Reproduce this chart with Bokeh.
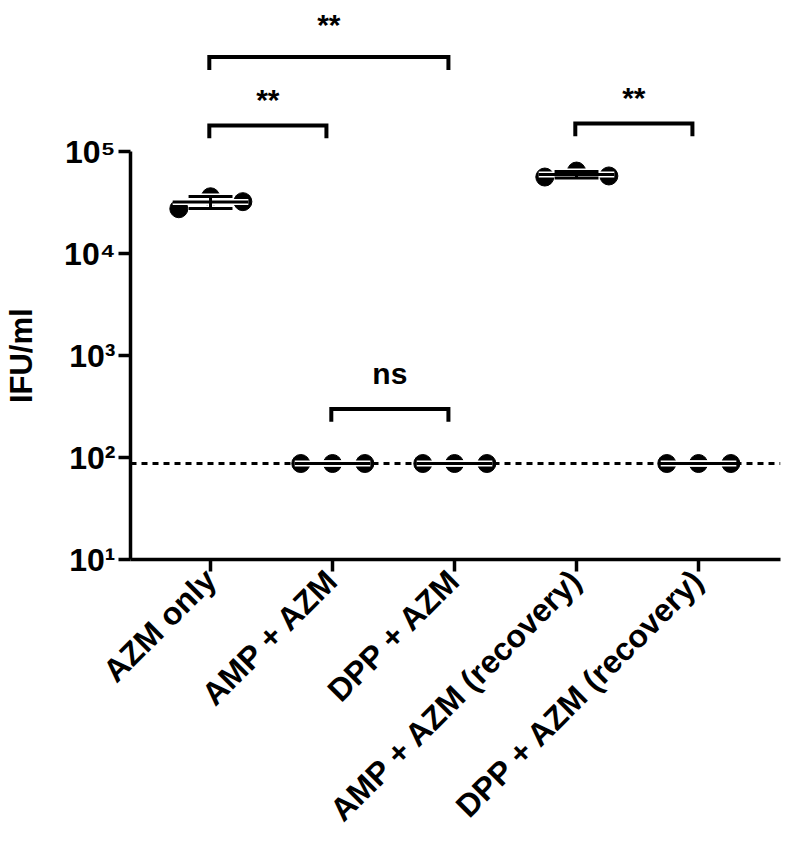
import numpy as np
from math import pi
from bokeh.plotting import figure
from bokeh.models import Range1d, FixedTicker, Span, Label
from bokeh.core.properties import value
from bokeh.embed import file_html
from bokeh.resources import INLINE

# ---------------- data ----------------
groups = ["AZM only", "AMP + AZM", "DPP + AZM",
          "AMP + AZM (recovery)", "DPP + AZM (recovery)"]
azm_only = [27700, 36300, 32500]
amp_azm = [87.5, 87.5, 87.5]
dpp_azm = [87.5, 87.5, 87.5]
amp_azm_recovery = [56700, 64900, 58100]
dpp_azm_recovery = [87.5, 87.5, 87.5]
group_values = [azm_only, amp_azm, dpp_azm, amp_azm_recovery, dpp_azm_recovery]

detection_limit = 87.5
y_ticks = [10, 100, 1000, 10000, 100000]
y_tick_labels = ["10\u00b9", "10\u00b2", "10\u00b3", "10\u2074", "10\u2075"]

comparisons = [(0, 2), (0, 1), (3, 4), (1, 2)]
comparison_labels = ["**", "**", "**", "ns"]

# ---------------- layout constants ----------------
FONT = "Liberation Sans"
jitter = [-0.26, 0.0, 0.265]
mean_half = 0.31
cap_half = 0.18
bracket_exp = [5.931, 5.260, 5.279, 2.478]     # log10 level of bracket bar
label_exp = [6.25, 5.51, 5.53, 2.83]           # log10 level of label middle
leg_dec = 0.126

p = figure(width=786, height=843, output_backend="svg", toolbar_location=None,
           x_range=Range1d(-0.656, 4.672), y_range=Range1d(10, 10 ** 6.388),
           y_axis_type="log", min_border_left=130, min_border_right=6,
           min_border_top=10, min_border_bottom=280)
p.outline_line_color = None
p.grid.visible = False
p.background_fill_color = "white"
p.border_fill_color = "white"

# detection limit
p.add_layout(Span(location=detection_limit, dimension="width", line_color="black",
                  line_width=3, line_dash="6 5"))

# points
px, py = [], []
for i, vals in enumerate(group_values):
    for j, v in enumerate(vals):
        px.append(i + jitter[j])
        py.append(v)
p.scatter(px, py, size=18, marker="circle", fill_color="black", line_color="black")

# mean +- SD lines
x0s, x1s, y0s, y1s = [], [], [], []
for i, vals in enumerate(group_values):
    m = float(np.mean(vals))
    s = float(np.std(vals, ddof=1))
    x0s += [i - mean_half, i - cap_half, i - cap_half, i]
    x1s += [i + mean_half, i + cap_half, i + cap_half, i]
    y0s += [m, m + s, m - s, m - s]
    y1s += [m, m + s, m - s, m + s]
p.segment(x0s, y0s, x1s, y1s, line_color="white", line_width=6)
p.segment(x0s, y0s, x1s, y1s, line_color="black", line_width=3)

# significance brackets
bxs, bys, tx, ty = [], [], [], []
for (a, b), lev, tl in zip(comparisons, bracket_exp, label_exp):
    top = 10 ** lev
    foot = 10 ** (lev - leg_dec)
    xa, xb = a - 0.01, b - 0.05
    bxs.append([xa, xa, xb, xb])
    bys.append([foot, top, top, foot])
    tx.append((xa + xb) / 2)
    ty.append(10 ** tl)
p.multi_line(bxs, bys, line_color="black", line_width=4, line_join="miter")
p.text(tx, ty, text=comparison_labels, text_font=value(FONT), text_font_style="bold",
       text_font_size="30px", text_align="center", text_baseline="middle",
       text_color="black")

# axes
for ax in (p.xaxis[0], p.yaxis[0]):
    ax.axis_line_width = 3.5
    ax.axis_line_color = "black"
    ax.major_tick_line_width = 3.5
    ax.major_tick_line_color = "black"
    ax.major_tick_out = 12
    ax.major_tick_in = 0
    ax.minor_tick_line_color = None
    ax.major_label_text_font = FONT
    ax.major_label_text_font_style = "bold"
    ax.major_label_text_color = "black"
    ax.major_label_standoff = 3

p.yaxis.major_label_text_font_size = "32px"
p.xaxis.major_label_text_font_size = "32px"

p.yaxis.ticker = FixedTicker(ticks=y_ticks)
p.yaxis.major_label_overrides = {t: l for t, l in zip(y_ticks, y_tick_labels)}
p.yaxis.bounds = (y_ticks[0], y_ticks[-1])

p.xaxis.ticker = FixedTicker(ticks=list(range(len(groups))))
p.xaxis.major_label_overrides = {i: g for i, g in enumerate(groups)}
p.xaxis.major_label_orientation = pi / 4

p.add_layout(Label(x=-1.549, y=1000, x_units="data", y_units="data", text="IFU/ml",
                   angle=pi / 2, text_align="center", text_baseline="middle",
                   text_font=FONT, text_font_style="bold", text_font_size="31px",
                   text_color="black"), "left")

open("out.html", "w").write(file_html(p, INLINE))
